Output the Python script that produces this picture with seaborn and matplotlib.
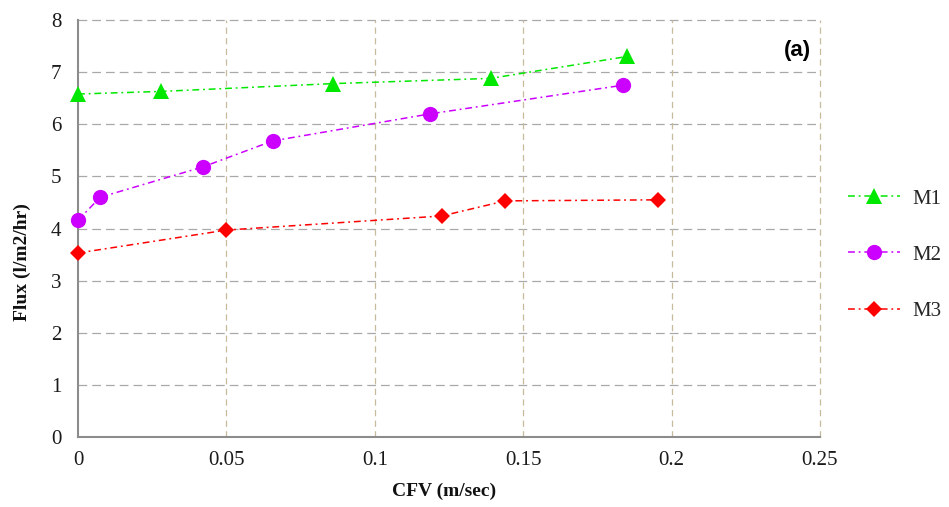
import numpy as np
import pandas as pd
import seaborn as sns
import matplotlib
matplotlib.use("Agg")
import matplotlib.pyplot as plt

# ---- data ----
m1_x = [0.0, 0.028, 0.086, 0.139, 0.185]
m1_y = [6.58, 6.63, 6.78, 6.88, 7.30]
m2_x = [0.0, 0.0075, 0.042, 0.0656, 0.1187, 0.1837]
m2_y = [4.16, 4.60, 5.18, 5.68, 6.20, 6.75]
m3_x = [0.0, 0.05, 0.1225, 0.144, 0.1955]
m3_y = [3.53, 3.97, 4.24, 4.53, 4.55]
series_names = ["M1", "M2", "M3"]
x_ticks = [0, 0.05, 0.1, 0.15, 0.2, 0.25]
x_tick_labels = ["0", "0.05", "0.1", "0.15", "0.2", "0.25"]
y_ticks = [0, 1, 2, 3, 4, 5, 6, 7, 8]

sns.set_theme(style="white")
plt.rcParams["font.family"] = ["Liberation Serif", "DejaVu Serif"]

fig = plt.figure(figsize=(9.49, 5.07), dpi=100)
ax = fig.add_axes([78 / 949, 1 - 437 / 507, (820 - 78) / 949, (437 - 20) / 507])

styles = {
    "M1": dict(color="#00e800", marker="^", markersize=11),
    "M2": dict(color="#cc00ff", marker="o", markersize=11),
    "M3": dict(color="#ff0000", marker="D", markersize=8),
}
data = {"M1": (m1_x, m1_y), "M2": (m2_x, m2_y), "M3": (m3_x, m3_y)}
for name in series_names:
    xs, ys = data[name]
    df = pd.DataFrame({"CFV": xs, "Flux": ys})
    st = styles[name]
    sns.lineplot(data=df, x="CFV", y="Flux", ax=ax, sort=False, estimator=None,
                 color=st["color"], marker=st["marker"], markersize=st["markersize"],
                 markeredgewidth=0, linewidth=1.1,
                 linestyle=(0, (4.5, 2.5, 1.2, 2.5)), label=name, zorder=4)
    ax.lines[-1].set_clip_on(False)

ax.set_xlim(0, 0.25)
ax.set_ylim(0, 8)
ax.set_xticks(x_ticks)
ax.set_xticklabels(x_tick_labels)
ax.set_yticks(y_ticks)

# grid
ax.grid(False)
for yv in y_ticks[1:]:
    ax.axhline(yv, color="#a9a9a9", linewidth=0.9, linestyle=(0, (7, 4)), zorder=1, clip_on=False)
for xv in x_ticks[1:]:
    ax.axvline(xv, color="#c6bb9b", linewidth=0.9, linestyle=(0, (5, 3.5)), zorder=1, clip_on=False)

for s in ["top", "right"]:
    ax.spines[s].set_visible(False)
for s in ["left", "bottom"]:
    ax.spines[s].set_color("#8c8c8c")
    ax.spines[s].set_linewidth(1.5)
    ax.spines[s].set_zorder(2)

ax.tick_params(axis="both", length=0, labelsize=15, colors="#1a1a1a")
ax.tick_params(axis="y", pad=12)
ax.tick_params(axis="x", pad=10)

ax.set_xlabel("CFV (m/sec)", fontsize=14, fontweight="bold", color="#111111")
ax.set_ylabel("Flux (l/m2/hr)", fontsize=14, fontweight="bold", color="#111111")
ax.xaxis.set_label_coords(0.493, -0.11)
ax.yaxis.set_label_coords(-0.063, 0.42)

ax.text(0.970, 0.926, "(a)", transform=ax.transAxes, ha="center", va="center",
        fontsize=16, fontweight="bold", family=["Liberation Sans", "DejaVu Sans"], color="#000000")

handles, labels = ax.get_legend_handles_labels()
leg = ax.legend(handles, labels, loc="center left",
                bbox_to_anchor=(848 / 949, 1 - 255 / 507), bbox_transform=fig.transFigure,
                frameon=False, fontsize=15, labelspacing=1.75, handlelength=2.5,
                handletextpad=0.6, borderpad=0, borderaxespad=0)

fig.savefig("out.png", dpi=100, facecolor="white")
